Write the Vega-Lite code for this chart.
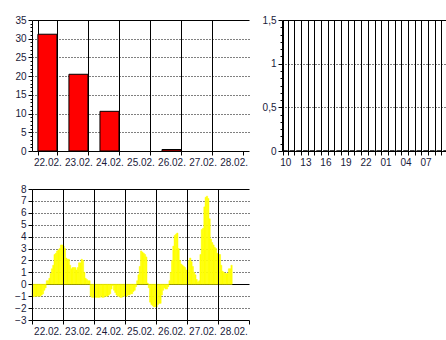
{
  "$schema": "https://vega.github.io/schema/vega-lite/v6.json",
  "background": "white",
  "padding": {"left": 14, "top": 15, "right": 0, "bottom": 0},
  "spacing": 17,
  "config": {
    "view": {"stroke": null},
    "axis": {
      "domainColor": "#000000",
      "tickColor": "#000000",
      "labelColor": "#1a1a3a",
      "labelFont": "Liberation Sans",
      "labelFontSize": 10,
      "title": null,
      "gridColor": "#000000",
      "labelPadding": 2
    }
  },
  "datasets": {
    "precip": [
      {"day": "22.02.", "p": 31.2},
      {"day": "23.02.", "p": 20.5},
      {"day": "24.02.", "p": 10.6},
      {"day": "25.02.", "p": 0},
      {"day": "26.02.", "p": 0.4},
      {"day": "27.02.", "p": 0},
      {"day": "28.02.", "p": 0}
    ],
    "hourly": [
      {"i": 0, "v": 0}, {"i": 1, "v": 0}, {"i": 2, "v": 0}, {"i": 3, "v": 0}, {"i": 4, "v": 0},
      {"i": 5, "v": 0}, {"i": 6, "v": 0}, {"i": 7, "v": 0}, {"i": 8, "v": 0}, {"i": 9, "v": 0},
      {"i": 10, "v": 0}, {"i": 11, "v": 0}, {"i": 12, "v": 0}, {"i": 13, "v": 0}, {"i": 14, "v": 0},
      {"i": 15, "v": 0}, {"i": 16, "v": 0}, {"i": 17, "v": 0}, {"i": 18, "v": 0}, {"i": 19, "v": 0},
      {"i": 20, "v": 0}, {"i": 21, "v": 0}, {"i": 22, "v": 0}, {"i": 23, "v": 0}, {"i": 24, "v": 0}
    ],
    "temp": [
      {"day": "22.02.", "h": 0, "t": -1.0}, {"day": "22.02.", "h": 1, "t": -1.05}, {"day": "22.02.", "h": 2, "t": -1.0}, {"day": "22.02.", "h": 3, "t": -1.0},
      {"day": "22.02.", "h": 4, "t": -1.0}, {"day": "22.02.", "h": 5, "t": -1.0}, {"day": "22.02.", "h": 6, "t": -1.0}, {"day": "22.02.", "h": 7, "t": -0.9},
      {"day": "22.02.", "h": 8, "t": -0.8}, {"day": "22.02.", "h": 9, "t": -0.5}, {"day": "22.02.", "h": 10, "t": -0.3}, {"day": "22.02.", "h": 11, "t": 0.3},
      {"day": "22.02.", "h": 12, "t": 0.3}, {"day": "22.02.", "h": 13, "t": 0.5}, {"day": "22.02.", "h": 14, "t": 0.9}, {"day": "22.02.", "h": 15, "t": 1.3},
      {"day": "22.02.", "h": 16, "t": 1.6}, {"day": "22.02.", "h": 17, "t": 2.5}, {"day": "22.02.", "h": 18, "t": 2.6}, {"day": "22.02.", "h": 19, "t": 2.8},
      {"day": "22.02.", "h": 20, "t": 2.9}, {"day": "22.02.", "h": 21, "t": 3.0}, {"day": "22.02.", "h": 22, "t": 3.3}, {"day": "22.02.", "h": 23, "t": 3.3},
      {"day": "23.02.", "h": 0, "t": 3.2}, {"day": "23.02.", "h": 1, "t": 3.0}, {"day": "23.02.", "h": 2, "t": 2.2}, {"day": "23.02.", "h": 3, "t": 2.1},
      {"day": "23.02.", "h": 4, "t": 2.1}, {"day": "23.02.", "h": 5, "t": 1.6}, {"day": "23.02.", "h": 6, "t": 1.3}, {"day": "23.02.", "h": 7, "t": 1.4},
      {"day": "23.02.", "h": 8, "t": 1.4}, {"day": "23.02.", "h": 9, "t": 1.4}, {"day": "23.02.", "h": 10, "t": 1.2}, {"day": "23.02.", "h": 11, "t": 1.4},
      {"day": "23.02.", "h": 12, "t": 1.8}, {"day": "23.02.", "h": 13, "t": 1.8}, {"day": "23.02.", "h": 14, "t": 2.1}, {"day": "23.02.", "h": 15, "t": 2.0},
      {"day": "23.02.", "h": 16, "t": 1.0}, {"day": "23.02.", "h": 17, "t": 0.5}, {"day": "23.02.", "h": 18, "t": 0.4}, {"day": "23.02.", "h": 19, "t": 0.3},
      {"day": "23.02.", "h": 20, "t": 0.3}, {"day": "23.02.", "h": 21, "t": -1.0}, {"day": "23.02.", "h": 22, "t": -1.1}, {"day": "23.02.", "h": 23, "t": -1.1},
      {"day": "24.02.", "h": 0, "t": -1.1}, {"day": "24.02.", "h": 1, "t": -1.1}, {"day": "24.02.", "h": 2, "t": -1.1}, {"day": "24.02.", "h": 3, "t": -1.1},
      {"day": "24.02.", "h": 4, "t": -1.1}, {"day": "24.02.", "h": 5, "t": -1.0}, {"day": "24.02.", "h": 6, "t": -1.1}, {"day": "24.02.", "h": 7, "t": -1.1},
      {"day": "24.02.", "h": 8, "t": -1.0}, {"day": "24.02.", "h": 9, "t": -1.0}, {"day": "24.02.", "h": 10, "t": -1.0}, {"day": "24.02.", "h": 11, "t": -0.9},
      {"day": "24.02.", "h": 12, "t": -0.8}, {"day": "24.02.", "h": 13, "t": -0.4}, {"day": "24.02.", "h": 14, "t": -0.1}, {"day": "24.02.", "h": 15, "t": -0.5},
      {"day": "24.02.", "h": 16, "t": -0.7}, {"day": "24.02.", "h": 17, "t": -0.9}, {"day": "24.02.", "h": 18, "t": -1.0}, {"day": "24.02.", "h": 19, "t": -1.0},
      {"day": "24.02.", "h": 20, "t": -1.1}, {"day": "24.02.", "h": 21, "t": -1.1}, {"day": "24.02.", "h": 22, "t": -1.0}, {"day": "24.02.", "h": 23, "t": -1.0},
      {"day": "25.02.", "h": 0, "t": -1.0}, {"day": "25.02.", "h": 1, "t": -1.0}, {"day": "25.02.", "h": 2, "t": -0.9}, {"day": "25.02.", "h": 3, "t": -0.9},
      {"day": "25.02.", "h": 4, "t": -0.8}, {"day": "25.02.", "h": 5, "t": -0.8}, {"day": "25.02.", "h": 6, "t": -0.6}, {"day": "25.02.", "h": 7, "t": -0.5},
      {"day": "25.02.", "h": 8, "t": -0.2}, {"day": "25.02.", "h": 9, "t": 0.3}, {"day": "25.02.", "h": 10, "t": 0.8}, {"day": "25.02.", "h": 11, "t": 1.5},
      {"day": "25.02.", "h": 12, "t": 2.8}, {"day": "25.02.", "h": 13, "t": 2.7}, {"day": "25.02.", "h": 14, "t": 2.6}, {"day": "25.02.", "h": 15, "t": 2.5},
      {"day": "25.02.", "h": 16, "t": 2.3}, {"day": "25.02.", "h": 17, "t": 0.1}, {"day": "25.02.", "h": 18, "t": -0.3}, {"day": "25.02.", "h": 19, "t": -1.5},
      {"day": "25.02.", "h": 20, "t": -1.7}, {"day": "25.02.", "h": 21, "t": -1.8}, {"day": "25.02.", "h": 22, "t": -1.9}, {"day": "25.02.", "h": 23, "t": -1.9},
      {"day": "26.02.", "h": 0, "t": -1.9}, {"day": "26.02.", "h": 1, "t": -1.7}, {"day": "26.02.", "h": 2, "t": -1.6}, {"day": "26.02.", "h": 3, "t": -1.6},
      {"day": "26.02.", "h": 4, "t": -0.9}, {"day": "26.02.", "h": 5, "t": -0.5}, {"day": "26.02.", "h": 6, "t": -0.3}, {"day": "26.02.", "h": 7, "t": -0.4},
      {"day": "26.02.", "h": 8, "t": -0.4}, {"day": "26.02.", "h": 9, "t": -0.2}, {"day": "26.02.", "h": 10, "t": 0.3}, {"day": "26.02.", "h": 11, "t": 1.0},
      {"day": "26.02.", "h": 12, "t": 2.0}, {"day": "26.02.", "h": 13, "t": 3.2}, {"day": "26.02.", "h": 14, "t": 4.1}, {"day": "26.02.", "h": 15, "t": 4.2},
      {"day": "26.02.", "h": 16, "t": 4.3}, {"day": "26.02.", "h": 17, "t": 3.0}, {"day": "26.02.", "h": 18, "t": 2.0}, {"day": "26.02.", "h": 19, "t": 1.7},
      {"day": "26.02.", "h": 20, "t": 1.6}, {"day": "26.02.", "h": 21, "t": 1.5}, {"day": "26.02.", "h": 22, "t": 1.4}, {"day": "26.02.", "h": 23, "t": 1.2},
      {"day": "27.02.", "h": 0, "t": 1.0}, {"day": "27.02.", "h": 1, "t": 2.0}, {"day": "27.02.", "h": 2, "t": 2.2}, {"day": "27.02.", "h": 3, "t": 1.9},
      {"day": "27.02.", "h": 4, "t": 1.5}, {"day": "27.02.", "h": 5, "t": 1.0}, {"day": "27.02.", "h": 6, "t": 0.8}, {"day": "27.02.", "h": 7, "t": 0.4},
      {"day": "27.02.", "h": 8, "t": 0.2}, {"day": "27.02.", "h": 9, "t": 0.3}, {"day": "27.02.", "h": 10, "t": 2.5}, {"day": "27.02.", "h": 11, "t": 4.6},
      {"day": "27.02.", "h": 12, "t": 4.7}, {"day": "27.02.", "h": 13, "t": 6.5}, {"day": "27.02.", "h": 14, "t": 7.3}, {"day": "27.02.", "h": 15, "t": 7.4},
      {"day": "27.02.", "h": 16, "t": 7.2}, {"day": "27.02.", "h": 17, "t": 5.5}, {"day": "27.02.", "h": 18, "t": 3.8}, {"day": "27.02.", "h": 19, "t": 3.5},
      {"day": "27.02.", "h": 20, "t": 3.3}, {"day": "27.02.", "h": 21, "t": 3.1}, {"day": "27.02.", "h": 22, "t": 3.0}, {"day": "27.02.", "h": 23, "t": 2.6},
      {"day": "28.02.", "h": 0, "t": 2.5}, {"day": "28.02.", "h": 1, "t": 2.5}, {"day": "28.02.", "h": 2, "t": 1.6}, {"day": "28.02.", "h": 3, "t": 1.1},
      {"day": "28.02.", "h": 4, "t": 1.0}, {"day": "28.02.", "h": 5, "t": 0.9}, {"day": "28.02.", "h": 6, "t": 0.9}, {"day": "28.02.", "h": 7, "t": 0.9},
      {"day": "28.02.", "h": 8, "t": 1.3}, {"day": "28.02.", "h": 9, "t": 1.3}, {"day": "28.02.", "h": 10, "t": 1.6}
    ]
  },
  "vconcat": [
    {
      "hconcat": [
        {
          "width": 217,
          "height": 131,
          "data": {"name": "precip"},
          "mark": {"type": "bar", "color": "#ff0000", "stroke": "#000000", "strokeWidth": 1},
          "encoding": {
            "x": {
              "field": "day", "type": "ordinal",
              "scale": {"paddingInner": 0.387, "paddingOuter": 0.19},
              "axis": {
                "tickBand": "extent", "grid": true, "gridDash": [], "labelAngle": 0, "tickSize": 4,
                "gridOpacity": {"condition": {"test": "datum.value == '28.02.' && !datum.extra", "value": 0}, "value": 1}
              }
            },
            "y": {
              "field": "p", "type": "quantitative",
              "scale": {"domain": [0, 35], "nice": false},
              "axis": {
                "values": [0,1,2,3,4,5,6,7,8,9,10,11,12,13,14,15,16,17,18,19,20,21,22,23,24,25,26,27,28,29,30,31,32,33,34,35],
                "format": "d",
                "labelExpr": "datum.value % 5 == 0 ? datum.label : ''",
                "tickSize": {"condition": {"test": "datum.value % 5 == 0", "value": 4}, "value": 2},
                "grid": true,
                "gridDash": {"condition": {"test": "datum.value == 35", "value": []}, "value": [1, 2]},
                "gridOpacity": {"condition": {"test": "datum.value % 5 == 0 && datum.value > 0", "value": 1}, "value": 0}
              }
            },
            "strokeOpacity": {"condition": {"test": "datum.p == 0", "value": 0}, "value": 1}
          }
        },
        {
          "width": 167,
          "height": 131,
          "data": {"name": "hourly"},
          "mark": {"type": "bar", "color": "#ff0000", "stroke": "#000000", "strokeWidth": 1},
          "encoding": {
            "x": {
              "field": "i", "type": "ordinal",
              "scale": {"paddingInner": 0.3, "paddingOuter": 0.15},
              "axis": {
                "tickBand": "extent", "grid": true, "gridDash": [], "labelAngle": 0, "tickSize": 4,
                "labelExpr": "datum.value % 3 == 0 && datum.value <= 21 ? ((((10 + datum.value) % 24) < 10 ? '0' : '') + ((10 + datum.value) % 24)) : ''"
              }
            },
            "y": {
              "field": "v", "type": "quantitative",
              "scale": {"domain": [0, 1.5], "nice": false},
              "axis": {
                "values": [0, 0.0833333, 0.1666667, 0.25, 0.3333333, 0.4166667, 0.5, 0.5833333, 0.6666667, 0.75, 0.8333333, 0.9166667, 1, 1.0833333, 1.1666667, 1.25, 1.3333333, 1.4166667, 1.5],
                "labelExpr": "abs(datum.value * 2 - round(datum.value * 2)) < 0.001 ? replace(format(datum.value, '.1~f'), '.', ',') : ''",
                "tickSize": {"condition": {"test": "abs(datum.value * 2 - round(datum.value * 2)) < 0.001", "value": 4}, "value": 2},
                "grid": true,
                "gridDash": {"condition": {"test": "datum.value > 1.49", "value": []}, "value": [1, 2]},
                "gridOpacity": {"condition": {"test": "abs(datum.value * 2 - round(datum.value * 2)) < 0.001 && datum.value > 0", "value": 1}, "value": 0}
              }
            }
          }
        }
      ],
      "spacing": 33,
      "bounds": "flush"
    },
    {
      "width": 217,
      "height": 131,
      "data": {"name": "temp"},
      "mark": {"type": "bar", "color": "#ffff00", "stroke": "#ffff00", "strokeWidth": 0.5},
      "encoding": {
        "x": {
          "field": "day", "type": "ordinal",
          "scale": {"paddingInner": 0, "paddingOuter": 0},
          "axis": {
            "tickBand": "extent", "grid": true, "gridDash": [], "labelAngle": 0, "tickSize": 4, "zindex": 1,
            "gridOpacity": {"condition": {"test": "datum.value == '28.02.' && !datum.extra", "value": 0}, "value": 1}
          }
        },
        "xOffset": {
          "field": "h", "type": "ordinal",
          "scale": {"paddingInner": 0, "paddingOuter": 0}
        },
        "y": {
          "field": "t", "type": "quantitative",
          "scale": {"domain": [-3, 8], "nice": false},
          "axis": {
            "values": [-3, -2.5, -2, -1.5, -1, -0.5, 0, 0.5, 1, 1.5, 2, 2.5, 3, 3.5, 4, 4.5, 5, 5.5, 6, 6.5, 7, 7.5, 8],
            "format": "d",
            "labelExpr": "datum.value % 1 == 0 ? datum.label : ''",
            "tickSize": {"condition": {"test": "datum.value % 1 == 0", "value": 4}, "value": 2},
            "grid": true,
            "gridDash": {"condition": {"test": "datum.value == 8 || datum.value == 0", "value": []}, "value": [1, 2]},
            "gridOpacity": {"condition": {"test": "datum.value % 1 == 0 && datum.value > -3", "value": 1}, "value": 0}
          }
        }
      }
    }
  ]
}
